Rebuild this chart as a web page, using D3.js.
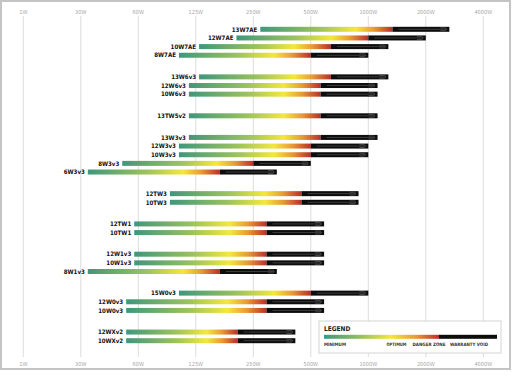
<!DOCTYPE html>
<html>
<head>
<meta charset="utf-8">
<script src="https://cdn.jsdelivr.net/npm/d3@7"></script>
<style>
  html, body { margin: 0; padding: 0; background: #fff; }
  svg { display: block; }
</style>
</head>
<body>
<div id="chart"></div>
<script>
// power axis, one step per doubling
const tickLabels = ['1W', '30W', '60W', '125W', '250W', '500W', '1000W', '2000W', '4000W'];

const models = [
  '13W7AE', '12W7AE', '10W7AE', '8W7AE',
  '13W6v3', '12W6v3', '10W6v3',
  '13TW5v2',
  '13W3v3', '12W3v3', '10W3v3', '8W3v3', '6W3v3',
  '12TW3', '10TW3',
  '12TW1', '10TW1',
  '12W1v3', '10W1v3', '8W1v3',
  '15W0v3', '12W0v3', '10W0v3',
  '12WXv2', '10WXv2'
];
const groups = [0, 0, 0, 0, 1, 1, 1, 2, 3, 3, 3, 3, 3, 4, 4, 5, 5, 6, 6, 6, 7, 7, 7, 8, 8];

// watts: start of bar, start of warranty-void zone, end of bar
const minWatts = [272, 204, 130, 102, 130, 115, 115, 115, 115, 102, 102, 51.5, 34, 91.5, 91.5, 59.5, 59.5, 59.5, 59.5, 34, 102, 54, 54, 54, 54];
const voidWatts = [1338, 1000, 637, 500, 637, 563, 563, 563, 563, 500, 500, 250, 167, 447, 447, 293, 293, 293, 293, 167, 500, 293, 293, 207, 207];
const maxWatts = [2657, 2000, 1274, 1000, 1274, 1118, 1118, 1118, 1118, 1000, 1000, 500, 332, 889, 889, 587, 587, 587, 587, 332, 1000, 587, 587, 415, 415];

const legendLabels = ['MINIMUM', 'OPTIMUM', 'DANGER ZONE', 'WARRANTY VOID'];

const W = 512, H = 379;
const font = "'Liberation Sans Narrow', 'DejaVu Sans Condensed', sans-serif";

const svg = d3.select('#chart').append('svg')
  .attr('width', W).attr('height', H);

// gradient shared by all bars (bounding box units)
const defs = svg.append('defs');
function addGradient(id, stops) {
  const g = defs.append('linearGradient')
    .attr('id', id).attr('x1', 0).attr('x2', 1).attr('y1', 0).attr('y2', 0);
  stops.forEach(([o, c]) => g.append('stop').attr('offset', o).attr('stop-color', c));
}
addGradient('heat', [[0, '#3f977c'], [0.45, '#9dc35c'], [0.72, '#f3e83c'], [0.86, '#e89a34'], [1, '#b8302a']]);
addGradient('heatLegend', [[0, '#3f977c'], [0.3, '#8fbd62'], [0.58, '#f3e83c'], [0.8, '#e89a34'], [1, '#b8302a']]);

// frame
svg.append('rect')
  .attr('x', 1).attr('y', 1).attr('width', 509).attr('height', 368)
  .attr('fill', 'none').attr('stroke', '#c4c4c4').attr('stroke-width', 2);

// scales
const tickX = d3.scalePoint().domain(tickLabels).range([23.3, 483.3]);
const x = d3.scaleLog().base(2).domain([31.25, 4000]).range([tickX('30W'), tickX('4000W')]);

const slots = models.map((m, i) => i + groups[i] * 1.5);
const y = d3.scaleLinear().domain([0, 36]).range([29.3, 340.7]);

const rows = models.map((m, i) => ({
  name: m, slot: slots[i], min: minWatts[i], danger: voidWatts[i], max: maxWatts[i]
}));

// gridlines and tick labels
svg.append('g').selectAll('line').data(tickLabels).enter().append('line')
  .attr('x1', (d) => tickX(d)).attr('x2', (d) => tickX(d))
  .attr('y1', 16).attr('y2', 357)
  .attr('stroke', '#dcdcdc').attr('stroke-width', 1);

[14, 366].forEach((ty) => {
  svg.append('g').selectAll('text').data(tickLabels).enter().append('text')
    .attr('x', (d) => tickX(d)).attr('y', ty)
    .attr('text-anchor', 'middle')
    .attr('font-family', font).attr('font-size', '5.6px')
    .attr('fill', '#a8a8a8')
    .text((d) => d);
});

const barH = 5;

function drawVoid(g, x0, x1, yc) {
  g.append('rect')
    .attr('x', x0).attr('y', yc - barH / 2)
    .attr('width', x1 - x0).attr('height', barH)
    .attr('fill', '#0d0d0d');
  g.append('line')
    .attr('x1', x0 + 6).attr('x2', x1 - 3).attr('y1', yc).attr('y2', yc)
    .attr('stroke', '#5c5c5c').attr('stroke-width', 0.6);
  g.append('path')
    .attr('d', `M${x1 - 9},${yc - 1.4} L${x1 - 4},${yc - 1.4} L${x1 - 2.5},${yc} L${x1 - 4},${yc + 1.4} L${x1 - 9},${yc + 1.4}`)
    .attr('fill', 'none').attr('stroke', '#6a6a6a').attr('stroke-width', 0.6);
}

const rowG = svg.append('g').selectAll('g').data(rows).enter().append('g');

rowG.append('rect')
  .attr('x', (d) => x(d.min)).attr('y', (d) => y(d.slot) - barH / 2)
  .attr('width', (d) => x(d.danger) - x(d.min)).attr('height', barH)
  .attr('fill', 'url(#heat)');

rowG.each(function (d) {
  drawVoid(d3.select(this), x(d.danger), x(d.max), y(d.slot));
});

rowG.append('text')
  .attr('x', (d) => x(d.min) - 3).attr('y', (d) => y(d.slot) + 2.2)
  .attr('text-anchor', 'end')
  .attr('font-family', font).attr('font-size', '6.1px').attr('font-weight', 'bold')
  .attr('fill', '#111')
  .text((d) => d.name);

// legend
const lg = svg.append('g');
lg.append('rect')
  .attr('x', 319).attr('y', 321).attr('width', 182).attr('height', 32)
  .attr('fill', '#fff').attr('stroke', '#d4d4d4').attr('stroke-width', 1);
lg.append('text')
  .attr('x', 324).attr('y', 330.5)
  .attr('font-family', font).attr('font-size', '6.5px').attr('font-weight', 'bold')
  .attr('fill', '#222').text('LEGEND');
lg.append('rect')
  .attr('x', 324).attr('y', 334.8).attr('width', 115).attr('height', 4)
  .attr('fill', 'url(#heatLegend)');
lg.append('rect')
  .attr('x', 439).attr('y', 334.8).attr('width', 58).attr('height', 4)
  .attr('fill', '#0d0d0d');
const legendX = [324, 386.5, 412.5, 450];
const legendW = [22, 20, 33, 38];
lg.selectAll('text.lab').data(legendLabels).enter().append('text')
  .attr('class', 'lab')
  .attr('x', (d, i) => legendX[i]).attr('y', 345.5)
  .attr('font-family', font).attr('font-size', '4.6px').attr('font-weight', 'bold')
  .attr('fill', '#333')
  .attr('textLength', (d, i) => legendW[i]).attr('lengthAdjust', 'spacingAndGlyphs')
  .text((d) => d);
</script>
</body>
</html>
